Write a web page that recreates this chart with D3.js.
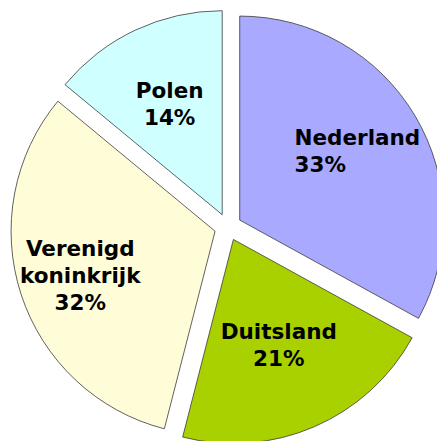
<!DOCTYPE html>
<html>
<head>
<meta charset="utf-8">
<script src="https://cdn.jsdelivr.net/npm/d3@7"></script>
<style>
  body { margin: 0; background: #fff; }
  text.slice-label { font-family: "DejaVu Sans", Verdana, sans-serif; font-weight: bold; font-size: 21.5px; fill: #000; }
</style>
</head>
<body>
<svg id="pie" width="437" height="441"></svg>
<script>
// data
let countries = ["Nederland", "Duitsland", "Verenigd koninkrijk", "Polen"];
let shares = [33, 21, 32, 14];
let colors = ["#a8a9ff", "#a9d100", "#fffcd8", "#d0ffff"];
let label_lines = [["Nederland"], ["Duitsland"], ["Verenigd", "koninkrijk"], ["Polen"]];
let label_align = ["start", "middle", "middle", "middle"];
let label_dist = [0.67, 0.56, 0.695, 0.605];   // label distance, as fraction of radius

let data = countries.map((c, i) => ({name: c, value: shares[i], color: colors[i], lines: label_lines[i], align: label_align[i], dist: label_dist[i]}));

let svg = d3.select("#pie");

let cx = 228, cy = 227,
    radius = 204,
    explode = 13.6,
    line_h = 27;

let pie = d3.pie().sort(null).value((d) => d.value);
let arc = d3.arc().innerRadius(0).outerRadius(radius);

let slices = pie(data);

// offset each slice outward along its middle angle
function offset(d, dist) {
    let a = (d.startAngle + d.endAngle) / 2;
    return [Math.sin(a) * dist, -Math.cos(a) * dist];
}

let g = svg.append("g").attr("transform", "translate(" + cx + "," + cy + ")");

g.selectAll("path.slice")
    .data(slices).enter()
    .append("path")
    .classed("slice", true)
    .attr("transform", (d) => "translate(" + offset(d, explode).join(",") + ")")
    .attr("d", arc)
    .attr("fill", (d) => d.data.color)
    .attr("stroke", "#3a3a3a")
    .attr("stroke-width", 0.8);

let labels = g.selectAll("text.slice-label")
    .data(slices).enter()
    .append("text")
    .classed("slice-label", true);

labels.each(function(d) {
    let t = d3.select(this);
    let [ox, oy] = offset(d, explode);
    let [lx, ly] = offset(d, d.data.dist * radius);
    let lines = d.data.lines.concat([d.data.value + "%"]);
    let top = oy + ly - (lines.length - 1) * line_h / 2 + 8;
    lines.forEach((s, i) => {
        t.append("tspan")
            .attr("x", ox + lx)
            .attr("y", top + i * line_h)
            .attr("text-anchor", "middle")
            .text(s);
    });
    // left-aligned block: align lines on the widest line's left edge
    if (d.data.align === "start") {
        let w = d3.max(t.selectAll("tspan").nodes(), (n) => n.getComputedTextLength());
        t.selectAll("tspan")
            .attr("text-anchor", "start")
            .attr("x", ox + lx - w / 2);
    }
});
</script>
</body>
</html>
